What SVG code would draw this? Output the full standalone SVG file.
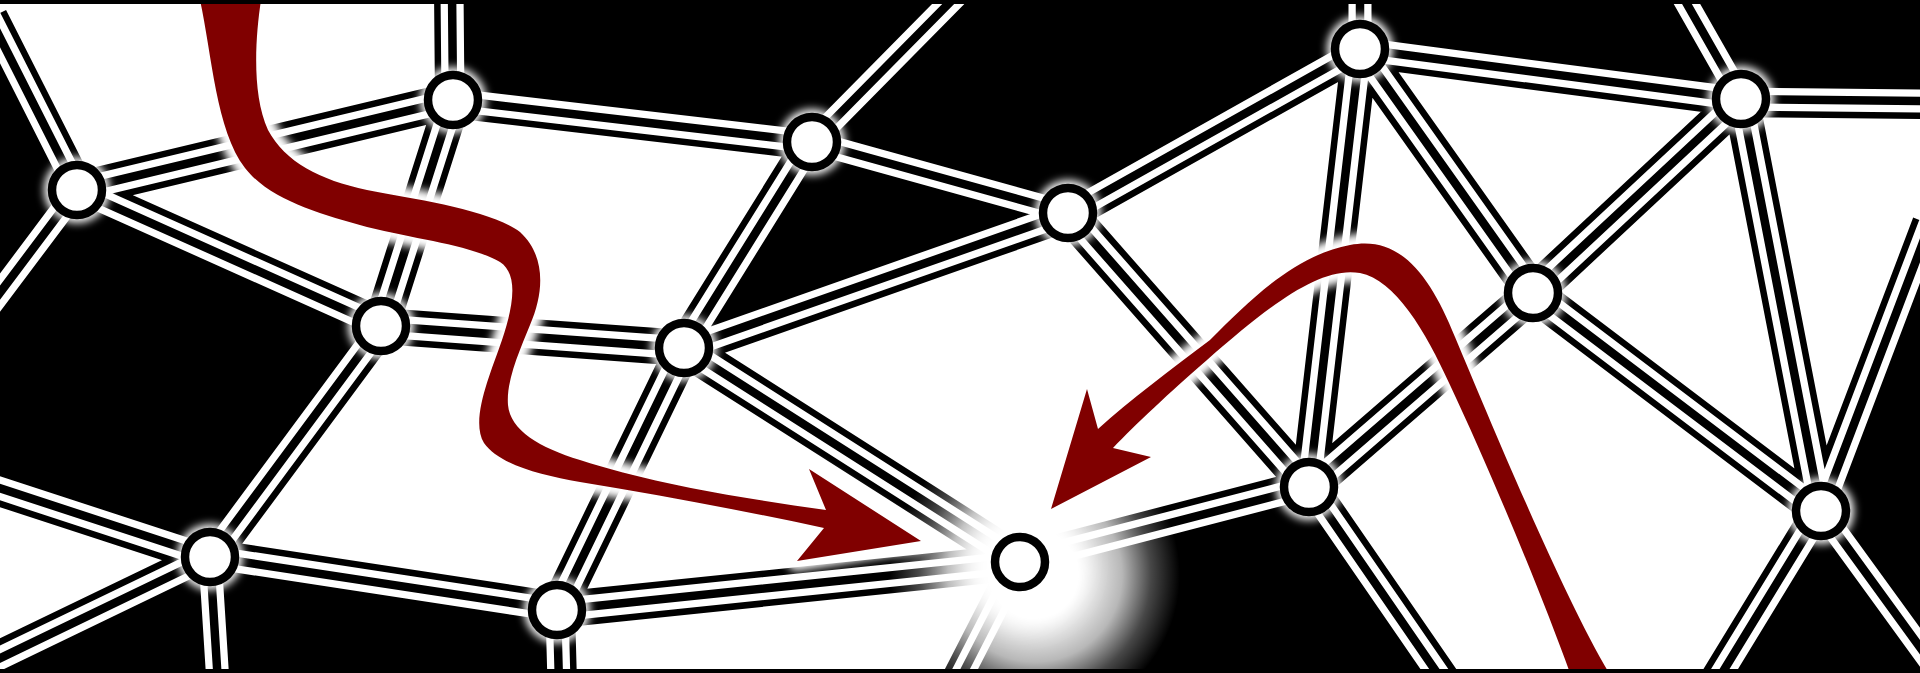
<svg xmlns="http://www.w3.org/2000/svg" xmlns:xlink="http://www.w3.org/1999/xlink" width="1920" height="673" viewBox="0 0 1920 673">
<style>
.face{fill:#000}
.e0{fill:none;stroke:#000;stroke-width:36}
.e1{fill:none;stroke:#fff;stroke-width:23}
.e2{fill:none;stroke:#000;stroke-width:8.5}
.glow{fill:#fff;filter:url(#blur)}
.ring{fill:#fff;stroke:#000;stroke-width:8.5}
.halo{fill:#fff;stroke:#fff;stroke-width:20;stroke-linejoin:round;filter:url(#blur2)}
.arrow{fill:#800000}
</style>
<defs>
<filter id="blur" x="-50%" y="-50%" width="200%" height="200%"><feGaussianBlur stdDeviation="4"/></filter>
<filter id="blur2" x="-20%" y="-20%" width="140%" height="140%"><feGaussianBlur stdDeviation="4.5"/></filter>
<filter id="blur3" x="-100%" y="-100%" width="300%" height="300%"><feGaussianBlur stdDeviation="14"/></filter>
<radialGradient id="gI" cx="1035" cy="575" r="145" gradientUnits="userSpaceOnUse">
<stop offset="0" stop-color="#fff" stop-opacity="1"/>
<stop offset="0.3" stop-color="#fff" stop-opacity="1"/>
<stop offset="0.6" stop-color="#fff" stop-opacity="0.72"/>
<stop offset="0.8" stop-color="#fff" stop-opacity="0.28"/>
<stop offset="1" stop-color="#fff" stop-opacity="0"/>
</radialGradient>
<path id="edges" d="M77,190L-10,18 M77,190L-10,306 M77,190L453,100 M77,190L381,326 M453,100L452,-10 M453,100L381,326 M453,100L812,142 M381,326L684,348 M381,326L210,557 M812,142L962,-10 M812,142L684,348 M812,142L1068,213 M684,348L1068,213 M684,348L557,610 M684,348L1020,562 M1068,213L1360,49 M1068,213L1309,487 M210,557L-10,485 M210,557L-10,663 M210,557L218,683 M210,557L557,610 M557,610L559,683 M557,610L1020,562 M1020,562L1309,487 M1020,562L958,683 M1360,49L1360,-10 M1360,49L1741,99 M1360,49L1533,293 M1360,49L1309,487 M1741,99L1679,-10 M1741,99L1930,101 M1741,99L1533,293 M1741,99L1821,511 M1533,293L1309,487 M1533,293L1821,511 M1309,487L1444,683 M1821,511L1930,224 M1821,511L1716,683 M1821,511L1930,661"/>
<path id="arrow1" d="M200,-6 L200,0 C212,55 216,130 245,168 C270,200 320,214 367,227 C420,240 470,245 500,262 C520,275 512,310 502,340 C490,375 470,420 484,443 C500,465 540,475 580,482 C660,495 740,510 824,528 L797,561 L921,541 L809,469 L826,510 C740,498 650,483 580,460 C540,448 510,430 508,405 C506,380 520,350 530,325 C545,290 545,255 520,232 C490,210 420,200 367,190 C320,180 285,162 268,130 C252,95 255,40 261,0 L261,-6 Z"/>
<path id="arrow2" d="M1573,682 L1570,673 C1540,590 1490,470 1450,385 C1425,330 1395,280 1360,273 C1320,266 1270,305 1207,360 C1170,392 1135,425 1113,448 L1151,457 L1051,509 L1087,389 L1098,429 C1130,400 1170,370 1210,340 C1250,300 1295,255 1350,245 C1400,235 1430,275 1455,337 C1490,420 1560,590 1609,673 L1613,682 Z"/>
</defs>
<rect width="1920" height="673" fill="#fff"/>
<g id="faces">
<path class="face" d="M0,38 L77,190 L0,293 Z"/>
<path class="face" d="M452,0 L453,100 L812,142 L1068,213 L1360,49 L1741,99 L1920,101 L1920,0 Z"/>
<path class="face" d="M812,142 L684,348 L1068,213 Z"/>
<path class="face" d="M0,293 L77,190 L381,326 L210,557 L0,488 Z"/>
<path class="face" d="M0,658 L210,557 L217,673 L0,673 Z"/>
<path class="face" d="M210,557 L557,610 L559,673 L217,673 Z"/>
<path class="face" d="M1020,562 L1309,487 L1437,673 L963,673 Z"/>
<path class="face" d="M1920,250 L1821,511 L1722,673 L1920,673 Z"/>
</g>
<g id="connectors">
<use xlink:href="#edges" href="#edges" class="e0"/>
<use xlink:href="#edges" href="#edges" class="e1"/>
<use xlink:href="#edges" href="#edges" class="e2"/>
</g>
<g id="glow-I">
<circle cx="1035" cy="575" r="145" fill="url(#gI)"/>
<circle cx="1022" cy="564" r="58" fill="#fff" filter="url(#blur3)"/>
</g>
<g id="arrows">
<use xlink:href="#arrow1" href="#arrow1" class="halo"/>
<use xlink:href="#arrow2" href="#arrow2" class="halo"/>
<use id="arrow-left" xlink:href="#arrow1" href="#arrow1" class="arrow"/>
<use id="arrow-right" xlink:href="#arrow2" href="#arrow2" class="arrow"/>
</g>
<g id="nodes">
<g id="node-A"><circle class="glow" cx="77" cy="190" r="33"/><circle class="ring" cx="77" cy="190" r="25"/></g>
<g id="node-B"><circle class="glow" cx="453" cy="100" r="33"/><circle class="ring" cx="453" cy="100" r="25"/></g>
<g id="node-C"><circle class="glow" cx="381" cy="326" r="33"/><circle class="ring" cx="381" cy="326" r="25"/></g>
<g id="node-D"><circle class="glow" cx="812" cy="142" r="33"/><circle class="ring" cx="812" cy="142" r="25"/></g>
<g id="node-E"><circle class="glow" cx="684" cy="348" r="33"/><circle class="ring" cx="684" cy="348" r="25"/></g>
<g id="node-F"><circle class="glow" cx="1068" cy="213" r="33"/><circle class="ring" cx="1068" cy="213" r="25"/></g>
<g id="node-G"><circle class="glow" cx="210" cy="557" r="33"/><circle class="ring" cx="210" cy="557" r="25"/></g>
<g id="node-H"><circle class="glow" cx="557" cy="610" r="33"/><circle class="ring" cx="557" cy="610" r="25"/></g>
<g id="node-I"><circle class="glow" cx="1020" cy="562" r="33"/><circle class="ring" cx="1020" cy="562" r="25"/></g>
<g id="node-J"><circle class="glow" cx="1360" cy="49" r="33"/><circle class="ring" cx="1360" cy="49" r="25"/></g>
<g id="node-K"><circle class="glow" cx="1741" cy="99" r="33"/><circle class="ring" cx="1741" cy="99" r="25"/></g>
<g id="node-L"><circle class="glow" cx="1533" cy="293" r="33"/><circle class="ring" cx="1533" cy="293" r="25"/></g>
<g id="node-M"><circle class="glow" cx="1309" cy="487" r="33"/><circle class="ring" cx="1309" cy="487" r="25"/></g>
<g id="node-N"><circle class="glow" cx="1821" cy="511" r="33"/><circle class="ring" cx="1821" cy="511" r="25"/></g>
</g>
<g id="frame">
<rect x="0" y="0" width="1920" height="4" fill="#000"/>
<rect x="0" y="669" width="1920" height="4" fill="#000"/>
</g>
</svg>
